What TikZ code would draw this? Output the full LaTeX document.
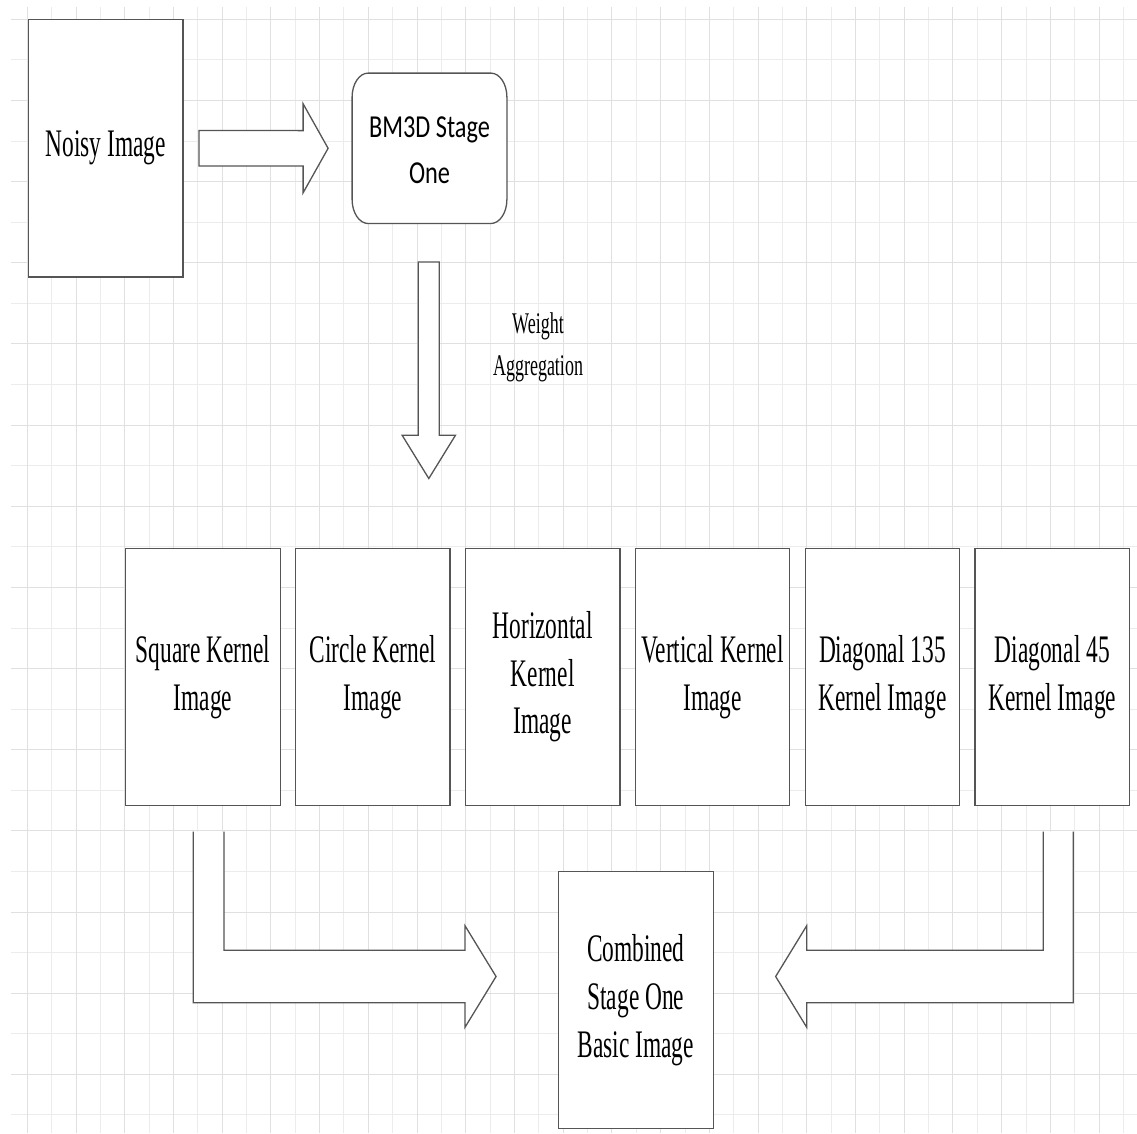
\documentclass[tikz,border=0pt]{standalone}
\usepackage{fontspec}
\usetikzlibrary{calc,backgrounds}
\newfontfamily\serf{Liberation Serif}[FakeStretch=0.6]
\newfontfamily\sanf{Carlito}[FakeStretch=0.76]
\definecolor{edge}{RGB}{85,85,85}
\definecolor{gridmaj}{RGB}{224,224,224}
\definecolor{gridmin}{RGB}{236,236,236}

\begin{document}
\begin{tikzpicture}[x=1pt,y=-1pt,
  box/.style={draw=edge,line width=1.3pt,fill=white,minimum width=154.5pt,
    minimum height=257.5pt,inner sep=0pt,align=center,
    font=\serf\fontsize{39}{47.5}\selectfont},
  blk/.style={draw=edge,line width=1.3pt,fill=white,line join=miter}]

\useasboundingbox (0,0) rectangle (1137,1133);

% paper and grid
\begin{scope}[on background layer]
  \fill[white] (0,0) rectangle (1137,1133);
  \foreach \i in {1,3,...,45}
    \draw[gridmin,line width=1pt] ({27.3+24.36*\i},7) -- ({27.3+24.36*\i},1133);
  \foreach \j in {1,3,...,27}
    \draw[gridmin,line width=1pt] (11,{19.3+40.58*\j}) -- (1137,{19.3+40.58*\j});
  \foreach \i in {0,2,...,44}
    \draw[gridmaj,line width=1pt] ({27.3+24.36*\i},7) -- ({27.3+24.36*\i},1133);
  \foreach \j in {0,2,...,26}
    \draw[gridmaj,line width=1pt] (11,{19.3+40.58*\j}) -- (1137,{19.3+40.58*\j});
\end{scope}

% input and first stage (text sits slightly below the box centre)
\node[box] (noisy) at (105.8,148.2) {Noisy Image};
\node[minimum width=154.4pt,minimum height=150pt,inner sep=0pt,align=center,
  font=\sanf\fontsize{32}{46}\selectfont] (bm3d) at (429.5,150.5) {BM3D Stage\\One};
\coordinate (bnw) at ($(bm3d.north west)+(0,-2.2)$);
\coordinate (bne) at ($(bm3d.north east)+(0,-2.2)$);
\coordinate (bsw) at ($(bm3d.south west)+(0,-2.2)$);
\coordinate (bse) at ($(bm3d.south east)+(0,-2.2)$);
\begin{scope}[on background layer]
  \draw[blk]
    ($(bnw)+(16,0)$) -- ($(bne)+(-16,0)$)
    .. controls ($(bne)+(-7.2,0)$) and ($(bne)+(0,10.8)$) .. ($(bne)+(0,24)$)
    -- ($(bse)+(0,-24)$)
    .. controls ($(bse)+(0,-10.8)$) and ($(bse)+(-7.2,0)$) .. ($(bse)+(-16,0)$)
    -- ($(bsw)+(16,0)$)
    .. controls ($(bsw)+(7.2,0)$) and ($(bsw)+(0,-10.8)$) .. ($(bsw)+(0,-24)$)
    -- ($(bnw)+(0,24)$)
    .. controls ($(bnw)+(0,10.8)$) and ($(bnw)+(7.2,0)$) .. ($(bnw)+(16,0)$)
    -- cycle;
\end{scope}

% block arrow: noisy image -> stage one
\draw[blk] ($(noisy.east)+(15.3,-17.7)$) -- ($(bm3d.west)+(-49,-19.9)$)
  -- ($(bm3d.west)+(-49,-46.7)$) -- ($(bm3d.west)+(-24,-2.2)$)
  -- ($(bm3d.west)+(-49,42.3)$) -- ($(bm3d.west)+(-49,15.5)$)
  -- ($(noisy.east)+(15.3,17.7)$) -- cycle;

% block arrow: stage one -> kernel images
\draw[blk] ($(bm3d.south)+(-11.2,36.2)$) -- ($(bm3d.south)+(-11.2,209.5)$)
  -- ($(bm3d.south)+(-27.4,209.5)$) -- ($(bm3d.south)+(-0.7,252.8)$)
  -- ($(bm3d.south)+(26,209.5)$) -- ($(bm3d.south)+(9.8,209.5)$)
  -- ($(bm3d.south)+(9.8,36.2)$) -- cycle;

\node[inner sep=0pt,align=center,font=\serf\fontsize{30}{42}\selectfont] (wlab)
  at (538,347) {Weight\\Aggregation};

% kernel images
\node[box] (sq)   at (203,677)     {Square Kernel\\Image};
\node[box] (ci)   at (372.85,677)  {Circle Kernel\\Image};
\node[box] (ho)   at (542.7,677)   {Horizontal\\Kernel\\Image};
\node[box] (ve)   at (712.55,677)  {Vertical Kernel\\Image};
\node[box] (d135) at (882.4,677)   {Diagonal 135\\Kernel Image};
\node[box] (d45)  at (1052.25,677) {Diagonal 45\\Kernel Image};

% combined result
\node[box,minimum width=155pt,minimum height=256.6pt,
  font=\serf\fontsize{39}{48}\selectfont] (comb) at (635.8,1000)
  {Combined\\Stage One\\Basic Image};

% L-shaped block arrows into the combined image
\coordinate (la1) at ($(sq.south)+(-9.7,25.3)$);
\coordinate (la2) at ($(sq.south)+(21,25.3)$);
\coordinate (lt)  at ($(comb.west)+(-61.6,-23.5)$);
\draw[blk] (la1) -- ($(la1 |- lt)+(0,26.3)$) -- ($(lt)+(-31,26.3)$)
  -- ($(lt)+(-31,50.7)$) -- (lt) -- ($(lt)+(-31,-50.7)$)
  -- ($(lt)+(-31,-26.3)$) -- ($(la2 |- lt)+(0,-26.3)$) -- (la2);

\coordinate (ra1) at ($(d45.south)+(21.05,25.3)$);
\coordinate (ra2) at ($(d45.south)+(-8.95,25.3)$);
\coordinate (rt)  at ($(comb.east)+(61.7,-23.5)$);
\draw[blk] (ra1) -- ($(ra1 |- rt)+(0,26.3)$) -- ($(rt)+(31,26.3)$)
  -- ($(rt)+(31,50.7)$) -- (rt) -- ($(rt)+(31,-50.7)$)
  -- ($(rt)+(31,-26.3)$) -- ($(ra2 |- rt)+(0,-26.3)$) -- (ra2);

\end{tikzpicture}
\end{document}
